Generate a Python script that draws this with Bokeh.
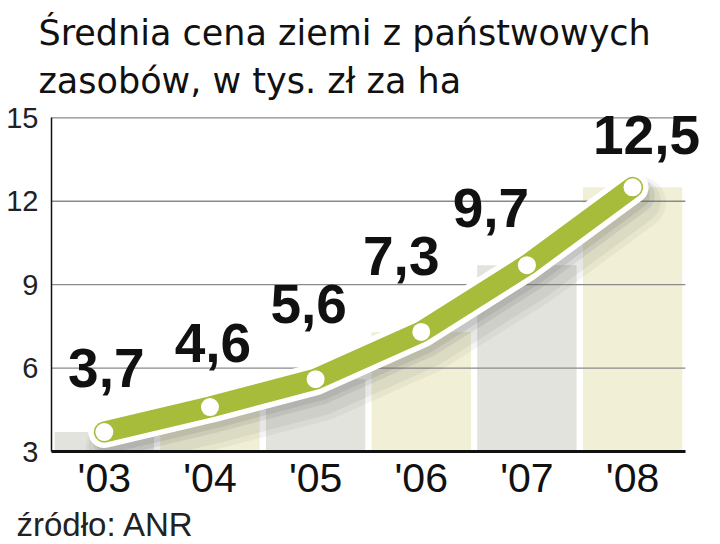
from bokeh.plotting import figure
from bokeh.models import ColumnDataSource, Range1d, FixedTicker, Title
from bokeh.core.properties import value
from bokeh.embed import file_html
from bokeh.resources import INLINE

# ---- data ----
years = ["'03", "'04", "'05", "'06", "'07", "'08"]
prices = [3.7, 4.6, 5.6, 7.3, 9.7, 12.5]
price_labels = ["3,7", "4,6", "5,6", "7,3", "9,7", "12,5"]
y_ticks = [3, 6, 9, 12, 15]

title_text = "Średnia cena ziemi z państwowych\nzasobów, w tys. zł za ha"
source_text = "źródło: ANR"

# ---- styles ----
bar_colors = ["#e2e3dd", "#f1f0d6", "#e2e3dd", "#f1f0d6", "#e2e3dd", "#f1f0d6"]
label_dx = [2, 3, -7, -20, -36, 14]
label_dy = [-64, -64, -75, -76, -57, -52]
green = "#a6bc3a"

xpos = list(range(len(years)))
x_lo, x_hi = xpos[0] - 0.5, xpos[-1] + 0.5

src = ColumnDataSource(dict(
    x=xpos, y=prices, lab=price_labels, col=bar_colors,
    dx=label_dx, dy=label_dy,
))

p = figure(x_range=Range1d(x_lo, x_hi + 0.2), y_range=Range1d(3, 15.3),
           width=720, height=544,
           output_backend="svg", toolbar_location=None,
           min_border_left=51, min_border_right=14, min_border_top=109,
           min_border_bottom=93)
p.outline_line_color = None
p.background_fill_color = "white"
p.xgrid.visible = False
p.ygrid.visible = False

# background bars
p.vbar(x="x", top="y", bottom=y_ticks[0], width=0.94, source=src,
       fill_color="col", line_color=None)

# horizontal grid lines (over the bars, under the line)
p.segment(x0=x_lo, x1=x_hi, y0=y_ticks[1:], y1=y_ticks[1:],
          line_color="#8a8a8a", line_width=1.3)

# shadow layers
for w, a, dy, dxs in [(52, 0.07, 0.55, 0.07), (44, 0.09, 0.5, 0.06),
                       (34, 0.12, 0.3, 0.05), (26, 0.14, 0.3, 0.04)]:
    p.line(x=[v + dxs for v in xpos], y=[v - dy for v in prices],
           line_color="#666666", line_alpha=a, line_width=w,
           line_cap="round", line_join="round")

# white outline + green line
p.line(x="x", y="y", source=src, line_color="white", line_width=32,
       line_cap="round", line_join="round")
p.line(x="x", y="y", source=src, line_color=green, line_width=21,
       line_cap="round", line_join="round")
p.scatter(x="x", y="y", source=src, size=18, fill_color="white",
          line_color=None)

# value labels
p.text(x="x", y="y", text="lab", source=src, x_offset="dx", y_offset="dy",
       text_font=value("Liberation Sans"), text_font_style="bold",
       text_font_size="55px", text_color="#111111",
       text_align="center", text_baseline="alphabetic")

# axes
yax = p.yaxis[0]
yax.ticker = FixedTicker(ticks=y_ticks)
yax.bounds = (y_ticks[0], y_ticks[-1])
yax.axis_line_color = "#111111"
yax.axis_line_width = 1.5
yax.major_tick_line_color = None
yax.major_tick_out = 0
yax.major_tick_in = 0
yax.minor_tick_line_color = None
yax.major_label_text_font = "Liberation Sans"
yax.major_label_text_font_size = "29px"
yax.major_label_text_color = "#222222"
yax.major_label_standoff = 13

xax = p.xaxis[0]
xax.ticker = FixedTicker(ticks=xpos)
xax.major_label_overrides = {i: lab for i, lab in zip(xpos, years)}
xax.bounds = (x_lo, x_hi)
xax.axis_line_color = "#111111"
xax.axis_line_width = 3
xax.major_tick_line_color = None
xax.major_tick_out = 0
xax.major_tick_in = 0
xax.minor_tick_line_color = None
xax.major_label_text_font = "Liberation Sans"
xax.major_label_text_font_size = "41px"
xax.major_label_text_color = "#111111"
xax.major_label_standoff = 3

# title
p.title = Title(text=title_text, align="left", offset=-13,
                vertical_align="top",
                text_font="DejaVu Sans", text_font_size="35px",
                text_font_style="normal", text_color="#111111", standoff=13,
                text_line_height=1.2)

# source note
p.add_layout(Title(text=source_text, align="left", offset=-35,
                   text_font="Liberation Sans", text_font_size="33px",
                   text_font_style="normal", text_color="#222222",
                   standoff=0), "below")

open("out.html", "w").write(file_html(p, INLINE))
